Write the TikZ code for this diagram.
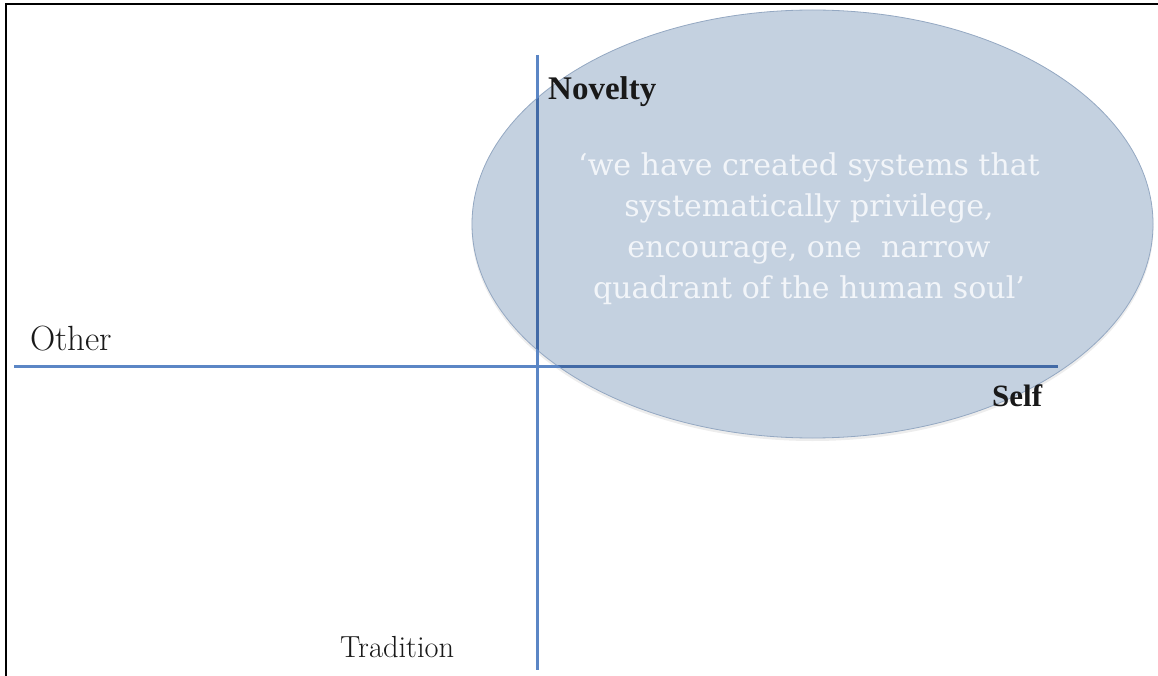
\documentclass[tikz,border=0pt]{standalone}
\usepackage{fontspec}
\usetikzlibrary{shapes.geometric}
\newfontfamily\quotefont{DejaVu Serif}
\newfontfamily\timesfont{Liberation Serif}
\definecolor{axisblue}{RGB}{91,134,197}
\definecolor{axisdeep}{RGB}{66,106,166}
\definecolor{blobfill}{RGB}{196,209,224}
\definecolor{blobedge}{RGB}{148,168,194}
\definecolor{quotewhite}{RGB}{242,245,249}
\definecolor{labelink}{RGB}{25,25,25}

\begin{document}
\begin{tikzpicture}[x=1pt,y=-1pt,
  axis/.style={line width=3pt, draw=axisblue},
  axisinner/.style={line width=3pt, draw=axisdeep},
  pole/.style={inner sep=0pt, anchor=base west, text=labelink},
  blobshape/.style={ellipse, inner sep=0pt, minimum width=681pt, minimum height=428pt,
                    fill=blobfill, draw=blobedge, line width=0.8pt},
  quotestyle/.style={text=quotewhite, align=center, inner sep=0pt,
                     font=\quotefont\fontsize{30}{41}\selectfont}]
\useasboundingbox (0,0) rectangle (1158,676);
\fill[white] (0,0) rectangle (1158,676);

% frame along the top and left edges
\draw[line width=2pt, black] (6,676) -- (6,4) -- (1158,4);

% soft shadow and the shaded region
\fill[black, opacity=0.07] (812.5,227) ellipse [x radius=341pt, y radius=214pt];
\node[blobshape] (blob) at (812.5,224) {};

% axes
\coordinate (vtop) at (537,55);
\coordinate (vbot) at (537,670);
\coordinate (hleft) at (14,366);
\coordinate (hright) at (1058,366);
\draw[axis] (vtop) -- (vbot);
\draw[axis] (hleft) -- (hright);
\begin{scope}
  \clip (blob.center) ellipse [x radius=340pt, y radius=213pt];
  \draw[axisinner] (vtop) -- (vbot);
  \draw[axisinner] (hleft) -- (hright);
\end{scope}

% quotation inside the region
\node[quotestyle] (quote) at (809,229)
  {‘we have created systems that\\
   systematically privilege,\\
   encourage, one\ \ narrow\\
   quadrant of the human soul’};

% pole labels
\node[pole, font=\timesfont\bfseries\fontsize{33}{33}\selectfont] (novelty) at (548,100) {Novelty};
\node[pole, font=\timesfont\bfseries\fontsize{31}{31}\selectfont] (self) at (992,406) {Self};
\node[pole, font=\fontsize{35}{35}\selectfont] (other) at (30,350) {Other};
\node[pole, font=\fontsize{30.5}{30.5}\selectfont] (tradition) at (340,657) {Tradition};
\end{tikzpicture}
\end{document}
